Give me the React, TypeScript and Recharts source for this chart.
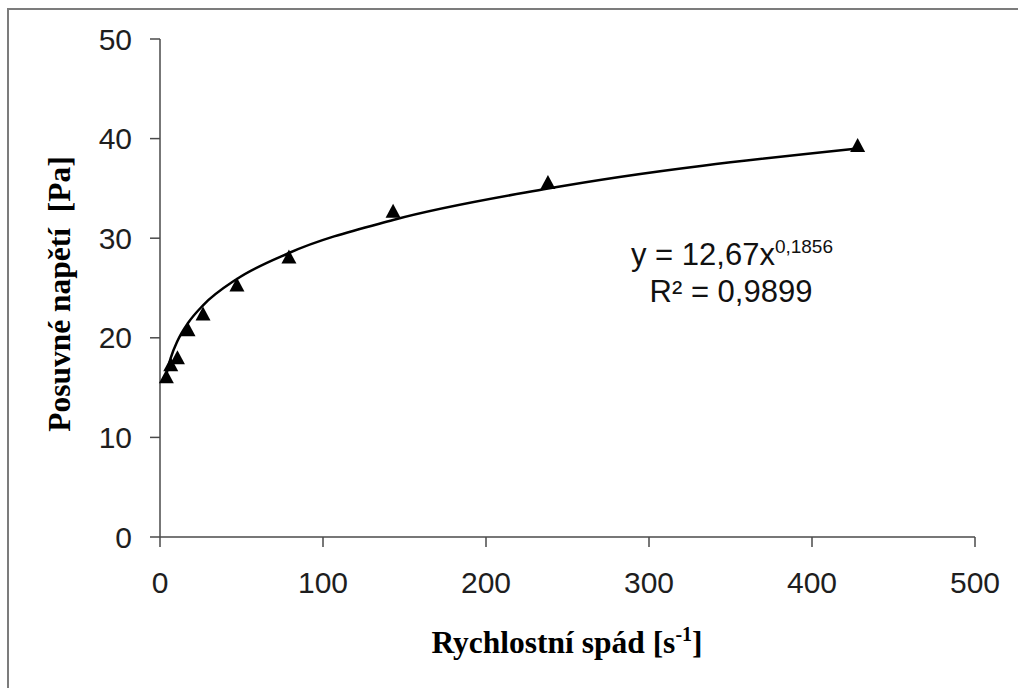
import { ComposedChart, Line, Scatter, XAxis, YAxis } from "recharts";

// measured points: shear rate [1/s] vs shear stress [Pa]
const shearRate = [3.9, 6.6, 10.7, 17.2, 26.4, 47.2, 79.1, 143, 238, 428];
const shearStress = [16.1, 17.3, 18.0, 20.8, 22.4, 25.3, 28.1, 32.7, 35.6, 39.3];

// power-law fit shown in the equation label
const fitK = 12.67;
const fitN = 0.1856;
const fitR2 = "0,9899";

const xTicks = [0, 100, 200, 300, 400, 500];
const yTicks = [0, 10, 20, 30, 40, 50];

const W = 1018;
const H = 688;
const SANS = "'Liberation Sans', Arial, sans-serif";
const SERIF = "'Liberation Serif', 'Times New Roman', serif";

const data = shearRate.map((x, i) => ({
  x,
  y: shearStress[i],
  fit: fitK * Math.pow(x, fitN),
}));

const Triangle = (props: any) => {
  const { cx, cy } = props;
  if (cx == null || cy == null) return null;
  return (
    <polygon
      points={`${cx},${cy - 7.5} ${cx + 7.5},${cy + 6.5} ${cx - 7.5},${cy + 6.5}`}
      fill="#000"
    />
  );
};

const axisStroke = "#4a4a4a";
const tickStyle = { fill: "#1e1e1e", fontSize: 30, fontFamily: SANS };

export default function App() {
  return (
    <div
      style={{
        position: "absolute",
        left: 0,
        top: 0,
        width: W,
        height: H,
        overflow: "hidden",
        background: "#fff",
      }}
    >
      {/* outer frame */}
      <div
        style={{
          position: "absolute",
          left: 7,
          top: 8,
          width: W + 40,
          height: H + 40,
          border: "2px solid #7c7c7c",
          boxSizing: "border-box",
        }}
      />
      <ComposedChart
        width={W}
        height={H}
        data={data}
        margin={{ top: 39, right: 43, bottom: 91, left: 100 }}
        style={{ position: "absolute", left: 0, top: 0 }}
      >
        <XAxis
          type="number"
          dataKey="x"
          domain={[0, 500]}
          ticks={xTicks}
          height={60}
          tickSize={10}
          tickMargin={25}
          tick={tickStyle}
          axisLine={{ stroke: axisStroke, strokeWidth: 1.5 }}
          tickLine={{ stroke: axisStroke, strokeWidth: 1.5 }}
        />
        <YAxis
          type="number"
          domain={[0, 50]}
          ticks={yTicks}
          width={60}
          tickSize={10}
          tickMargin={18}
          tick={tickStyle}
          axisLine={{ stroke: axisStroke, strokeWidth: 1.5 }}
          tickLine={{ stroke: axisStroke, strokeWidth: 1.5 }}
        />
        <Line
          type="monotone"
          dataKey="fit"
          stroke="#000"
          strokeWidth={2.5}
          dot={false}
          activeDot={false}
          isAnimationActive={false}
        />
        <Scatter dataKey="y" shape={Triangle} isAnimationActive={false} />
      </ComposedChart>
      <svg
        width={W}
        height={H}
        style={{ position: "absolute", left: 0, top: 0, pointerEvents: "none" }}
      >
        <text
          transform="translate(70, 294) rotate(-90)"
          textAnchor="middle"
          fontFamily={SERIF}
          fontWeight="bold"
          fontSize={31.5}
          fill="#000"
          style={{ whiteSpace: "pre" }}
        >
          {"Posuvné napětí  [Pa]"}
        </text>
        <text
          x={567}
          y={653}
          textAnchor="middle"
          fontFamily={SERIF}
          fontWeight="bold"
          fontSize={31.5}
          fill="#000"
        >
          Rychlostní spád [s
          <tspan fontSize={20} dy={-12}>-1</tspan>
          <tspan dy={12}>]</tspan>
        </text>
        <text x={732} y={265} textAnchor="middle" fontFamily={SANS} fontSize={31} fill="#111">
          y = {String(fitK).replace(".", ",")}x
          <tspan fontSize={19} dy={-12}>{String(fitN).replace(".", ",")}</tspan>
        </text>
        <text x={731} y={302} textAnchor="middle" fontFamily={SANS} fontSize={31} fill="#111">
          R² = {fitR2}
        </text>
      </svg>
    </div>
  );
}
